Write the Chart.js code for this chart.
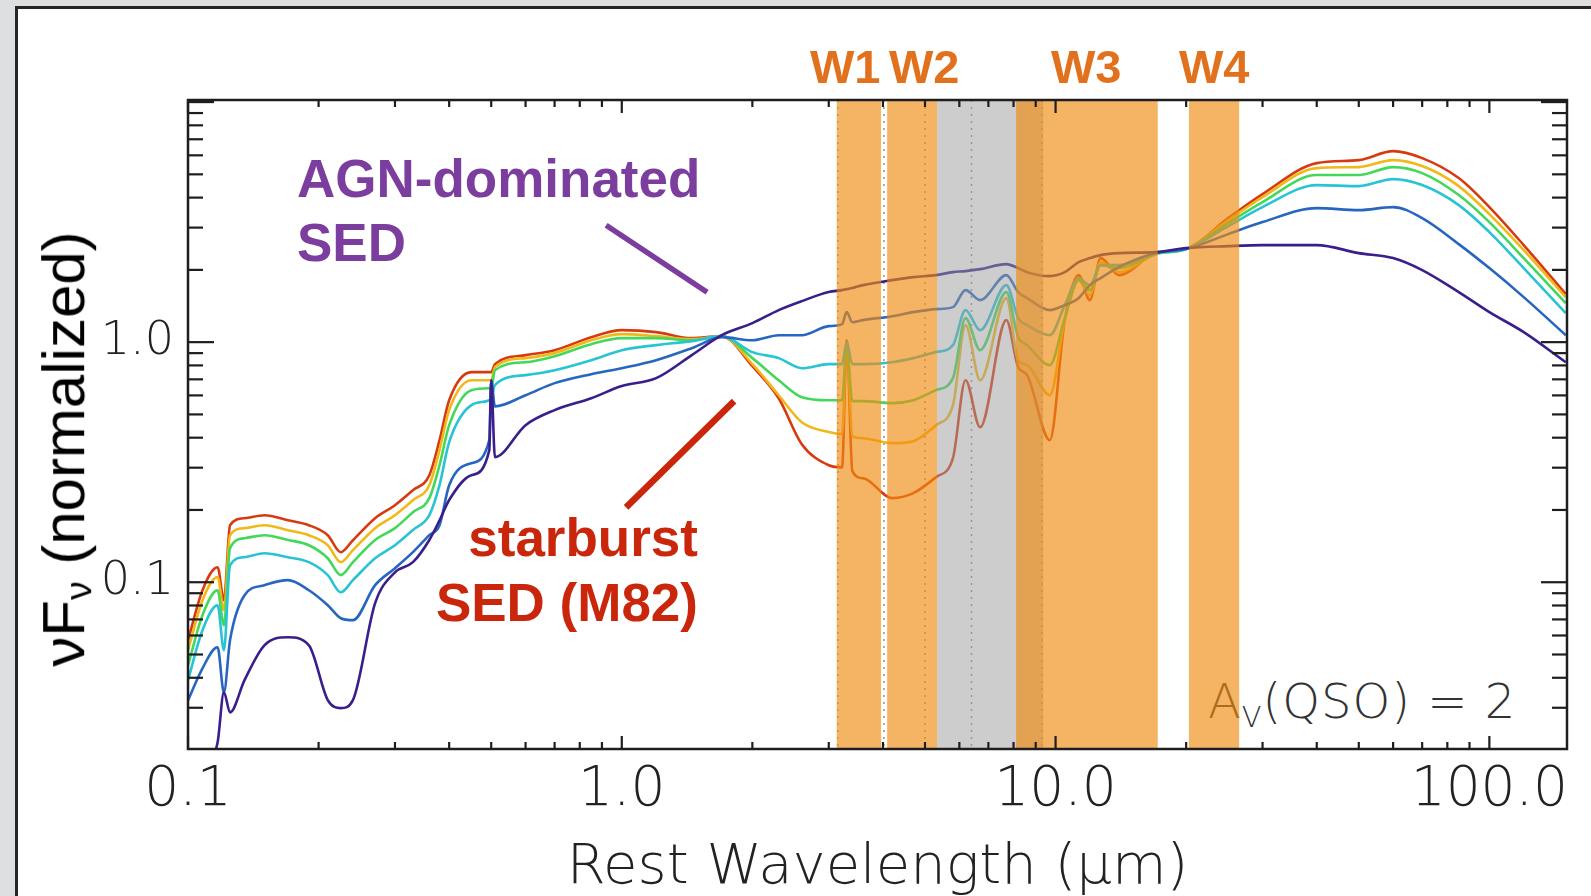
<!DOCTYPE html>
<html>
<head>
<meta charset="utf-8">
<script src="https://cdn.jsdelivr.net/npm/chart.js@4.4.1/dist/chart.umd.min.js"></script>
<style>
  html, body { margin: 0; padding: 0 }
  body { width: 1591px; height: 896px; background: #dedfe1; position: relative; overflow: hidden; font-family: 'Liberation Sans', Arial, sans-serif }
  #panel { position: absolute; left: 15px; top: 6px; width: 1600px; height: 910px; background: #fff; border-left: 3px solid #262626; border-top: 3px solid #262626 }
  #sed { position: absolute; left: 0; top: 0; z-index: 2 }
  .note { position: absolute; font-weight: bold; white-space: nowrap; z-index: 3 }
  .agn { left: 297px; top: 147px; font-size: 53px; line-height: 64px; color: #7b3d9e }
  .sb { left: 398px; top: 505px; width: 300px; text-align: right; font-size: 53px; line-height: 65px; color: #c9260b }
  .wb { top: 43px; font-size: 47px; line-height: 47px; color: #e2711d }
  #ytitle { position: absolute; left: 71px; top: 449px; transform: translate(-50%, -50%) rotate(-90deg); font-size: 60px; line-height: 60px; white-space: nowrap; color: #000; z-index: 3 }
  #ytitle sub { font-size: 0.62em; vertical-align: -0.18em }
  #av { position: absolute; left: 1208px; top: 677px; font-family: 'DejaVu Sans', sans-serif; font-weight: 300; font-size: 48px; line-height: 48px; color: #333; white-space: nowrap; z-index: 1; letter-spacing: 1px }
  #av sub { font-size: 0.6em; vertical-align: -0.3em }
</style>
</head>
<body>
<div id="panel"></div>
<div id="av">A<sub>V</sub>(QSO) = 2</div>
<canvas id="sed" width="1591" height="896"></canvas>
<div id="ytitle">νF<sub>ν</sub> (normalized)</div>
<div class="note agn">AGN-dominated<br>SED</div>
<div class="note sb">starburst<br>SED (M82)</div>
<div class="note wb" style="left:810px">W1</div>
<div class="note wb" style="left:889px">W2</div>
<div class="note wb" style="left:1051px">W3</div>
<div class="note wb" style="left:1179px">W4</div>

<script>
/* ====== SED TEMPLATES (rest wavelength in micron, nuFnu normalized) ====== */

const wavelength = [0.1, 0.108, 0.117, 0.121, 0.125, 0.135, 0.15, 0.17, 0.19, 0.21, 0.225, 0.24, 0.27, 0.3, 0.33, 0.36,
  0.38, 0.4, 0.45, 0.495, 0.5, 0.51, 0.6, 0.7, 0.85, 1.0, 1.2, 1.45, 1.7, 2.0, 2.3, 2.6, 3.0, 3.22, 3.3, 3.4, 3.6,
  4.2, 4.7, 5.3, 5.8, 6.2, 6.7, 7.7, 8.2, 8.6, 9.7, 10.5, 11.3, 12.0, 12.7, 14.0, 17.0, 20.0, 25, 30, 40, 50, 60,
  70, 85, 100, 120, 150]

// AGN-dominated (purple) ... starburst M82 (red)
const sedAgn = [0.0136, 0.0165, 0.0215, 0.0348, 0.0287, 0.0391, 0.0546, 0.059, 0.0546, 0.0323, 0.0299, 0.0323, 0.0818,
  0.11, 0.1212, 0.15, 0.181, 0.22, 0.2791, 0.355, 0.694, 0.332, 0.451, 0.521, 0.584, 0.656, 0.708, 0.883, 1.069, 1.2,
  1.36, 1.482, 1.616, 1.647, 1.663, 1.68, 1.728, 1.813, 1.866, 1.902, 1.957, 1.976, 2.014, 2.113, 2.034, 1.957, 1.884,
  1.957, 2.154, 2.239, 2.304, 2.349, 2.371, 2.465, 2.512, 2.536, 2.536, 2.349, 2.239, 1.995, 1.616, 1.334, 1.101, 0.825]

const sedMix1 = [0.0322, 0.0438, 0.0536, 0.0348, 0.0574, 0.0883, 0.0972, 0.102, 0.0926, 0.0802, 0.0708, 0.0695, 0.0972,
  0.1144, 0.1334, 0.157, 0.1728, 0.2536, 0.3133, 0.3905, 0.694, 0.54, 0.601, 0.675, 0.7356, 0.779, 0.841, 0.944, 1.049,
  1.019, 1.069, 1.069, 1.166, 1.189, 1.334, 1.211, 1.235, 1.283, 1.334, 1.372, 1.399, 1.647, 1.496, 1.902, 1.616, 1.525,
  1.36, 1.426, 1.525, 1.728, 1.848, 2.054, 2.349, 2.441, 2.818, 3.162, 3.617, 3.548, 3.652, 3.286, 2.561, 2.034, 1.54, 1.069]

const sedMix2 = [0.0391, 0.0631, 0.0802, 0.0521, 0.1177, 0.1271, 0.132, 0.1271, 0.1212, 0.107, 0.0908, 0.102, 0.1259,
  0.1426, 0.165, 0.1902, 0.2536, 0.383, 0.5464, 0.573, 0.584, 0.662, 0.729, 0.764, 0.841, 0.926, 0.972, 1.01, 1.059,
  0.909, 0.858, 0.779, 0.81, 0.81, 1.0, 0.81, 0.81, 0.825, 0.858, 0.909, 0.972, 1.36, 1.122, 1.728, 1.259, 1.177, 1.069,
  1.426, 1.848, 1.728, 2.093, 2.093, 2.349, 2.441, 3.043, 3.652, 4.51, 4.467, 4.777, 4.51, 3.722, 2.873, 2.034, 1.321]

const sedMix3 = [0.0451, 0.0729, 0.0926, 0.0662, 0.1386, 0.1525, 0.157, 0.15, 0.1426, 0.1259, 0.107, 0.1212, 0.15,
  0.168, 0.1957, 0.224, 0.307, 0.451, 0.631, 0.643, 0.643, 0.764, 0.825, 0.874, 0.981, 1.039, 1.039, 1.019, 1.059,
  0.858, 0.694, 0.59, 0.573, 0.573, 0.972, 0.568, 0.568, 0.557, 0.573, 0.631, 0.708, 1.259, 0.926, 1.616, 1.049, 0.972,
  0.802, 1.259, 1.813, 1.647, 2.093, 2.034, 2.326, 2.441, 3.132, 3.831, 4.965, 4.965, 5.36, 5.06, 4.1, 3.162, 2.239, 1.453]

const sedMix4 = [0.0521, 0.0841, 0.105, 0.0765, 0.157, 0.168, 0.1728, 0.1647, 0.157, 0.1426, 0.1212, 0.136, 0.168,
  0.1902, 0.2196, 0.2536, 0.3548, 0.521, 0.694, 0.694, 0.694, 0.787, 0.858, 0.9, 1.019, 1.08, 1.059, 1.029, 1.059,
  0.81, 0.601, 0.464, 0.422, 0.414, 1.0, 0.406, 0.398, 0.3795, 0.387, 0.451, 0.5464, 1.177, 0.694, 1.525, 0.841, 0.802,
  0.601, 1.235, 1.813, 1.57, 2.154, 1.957, 2.326, 2.441, 3.224, 4.02, 5.309, 5.36, 5.732, 5.412, 4.467, 3.415, 2.418, 1.54]

const sedStarburst = [0.0573, 0.0926, 0.1155, 0.0841, 0.1728, 0.1848, 0.1902, 0.1813, 0.1728, 0.157, 0.1334, 0.1496,
  0.1848, 0.2093, 0.2416, 0.2791, 0.3905, 0.5731, 0.75, 0.75, 0.75, 0.81, 0.883, 0.926, 1.049, 1.122, 1.101, 1.039,
  1.059, 0.794, 0.584, 0.376, 0.307, 0.301, 1.019, 0.29, 0.271, 0.224, 0.235, 0.274, 0.329, 0.694, 0.442, 1.235, 0.787,
  0.729, 0.3905, 1.235, 1.902, 1.496, 2.239, 1.902, 2.349, 2.441, 3.286, 4.138, 5.569, 5.732, 6.248, 5.843, 4.825, 3.652, 2.536, 1.585]

const seriesList = [sedAgn, sedMix1, sedMix2, sedMix3, sedMix4, sedStarburst]
const seriesColors = ['#3a1e8c', '#2766c0', '#28c4d4', '#44d85a', '#f0b818', '#d83a10']

const xTicks = [0.1, 1, 10, 100]
const xTickLabels = ['0.1', '1.0', '10.0', '100.0']
const yTicks = [0.1, 1]
const yTickLabels = ['0.1', '1.0']

// WISE filter bands and the grey gap band, in micron
const wiseBands = [[3.13, 3.96], [4.09, 5.33], [8.11, 17.2], [20.3, 26.5]]
const greyBand = [5.33, 9.36]
const dottedLines = [3.15, 4.02, 5.0, 6.4, 9.3]

// pointer lines of the two labels, [wavelength, flux] ends
const agnPointer = [[0.92, 3.07], [1.573, 1.615]]
const sbPointer = [[1.023, 0.205], [1.815, 0.568]]

const xTickFont = { family: 'DejaVu Sans', size: 55, weight: '300' }
const yTickFont = { family: 'DejaVu Sans', size: 46, weight: '300' }

function logTicks(min, max) {
  const out = []
  for (let e = -2; e <= 2; e++) for (let k = 1; k <= 9; k++) {
    const v = k * Math.pow(10, e)
    if (v >= min && v <= max) out.push({ v, major: k === 1 })
  }
  return out
}

function seg(ctx, x1, y1, x2, y2) {
  ctx.beginPath(); ctx.moveTo(x1, y1); ctx.lineTo(x2, y2); ctx.stroke()
}

const sedFrame = {
  id: 'sedFrame',
  beforeDatasetsDraw(chart) {
    const { ctx, chartArea: a, scales: { x } } = chart
    ctx.save()
    ctx.setLineDash([2, 5]); ctx.strokeStyle = 'rgba(110,110,110,0.75)'; ctx.lineWidth = 1.5
    dottedLines.forEach(w => { const px = x.getPixelForValue(w); seg(ctx, px, a.top, px, a.bottom) })
    ctx.restore()
  },
  afterDatasetsDraw(chart) {
    const { ctx, chartArea: a, scales: { x, y } } = chart
    ctx.save()
    // grey band, then the orange WISE bands over the curves
    ctx.fillStyle = 'rgba(155,155,155,0.5)'
    let l = x.getPixelForValue(greyBand[0]), r = x.getPixelForValue(greyBand[1])
    ctx.fillRect(l, a.top, r - l, a.height)
    ctx.fillStyle = 'rgba(240,140,17,0.65)'
    wiseBands.forEach(b => {
      l = x.getPixelForValue(b[0]); r = x.getPixelForValue(b[1])
      ctx.fillRect(l, a.top, r - l, a.height)
    })

    // label pointers
    ctx.lineCap = 'butt'
    ctx.strokeStyle = '#7b3d9e'; ctx.lineWidth = 5.5
    seg(ctx, x.getPixelForValue(agnPointer[0][0]), y.getPixelForValue(agnPointer[0][1]), x.getPixelForValue(agnPointer[1][0]), y.getPixelForValue(agnPointer[1][1]))
    ctx.strokeStyle = '#c9260b'; ctx.lineWidth = 6.5
    seg(ctx, x.getPixelForValue(sbPointer[0][0]), y.getPixelForValue(sbPointer[0][1]), x.getPixelForValue(sbPointer[1][0]), y.getPixelForValue(sbPointer[1][1]))

    // box and inward ticks on all four sides
    ctx.strokeStyle = '#1e1e1e'; ctx.lineWidth = 2.5
    ctx.strokeRect(a.left, a.top, a.width, a.height)
    ctx.lineWidth = 2.2
    logTicks(x.min, x.max).forEach(t => {
      const px = x.getPixelForValue(t.v), len = t.major ? 13 : 7
      seg(ctx, px, a.bottom, px, a.bottom - len)
      seg(ctx, px, a.top, px, a.top + len)
    })
    logTicks(y.min, y.max).forEach(t => {
      const py = y.getPixelForValue(t.v), len = t.major ? 26 : 15
      seg(ctx, a.left, py, a.left + len, py)
      seg(ctx, a.right, py, a.right - len, py)
    })
    ctx.restore()
  }
}

const datasets = seriesList.map((s, i) => ({
  data: wavelength.map((w, j) => ({ x: w, y: s[j] })),
  borderColor: seriesColors[i],
  borderWidth: 2.6,
  pointRadius: 0,
  cubicInterpolationMode: 'monotone'
}))

new Chart(document.getElementById('sed'), {
  type: 'line',
  data: { datasets },
  options: {
    responsive: false, animation: false, devicePixelRatio: 1,
    layout: { padding: { top: 100, right: 24, left: 0, bottom: 0 } },
    plugins: { legend: { display: false }, tooltip: { enabled: false } },
    scales: {
      x: {
        type: 'logarithmic', min: 0.1, max: 151,
        afterBuildTicks: s => { s.ticks = xTicks.map(v => ({ value: v })) },
        afterFit: s => { s.height = 147 },
        grid: { display: false, drawTicks: false }, border: { display: false },
        ticks: { autoSkip: false, maxRotation: 0, padding: 9, color: '#222', font: xTickFont, callback: (v, i) => xTickLabels[i] },
        title: { display: true, text: 'Rest Wavelength (μm)', color: '#222', font: { family: 'DejaVu Sans', size: 56, weight: '300', lineHeight: 1 }, padding: { top: 0, bottom: 0 } }
      },
      y: {
        type: 'logarithmic', min: 0.0202, max: 10.2,
        afterBuildTicks: s => { s.ticks = yTicks.map(v => ({ value: v })) },
        afterFit: s => { s.width = 188 },
        grid: { display: false, drawTicks: false }, border: { display: false },
        ticks: { autoSkip: false, padding: 14, color: '#222', font: yTickFont, callback: (v, i) => yTickLabels[i] }
      }
    }
  },
  plugins: [sedFrame]
})
</script>
</body>
</html>
